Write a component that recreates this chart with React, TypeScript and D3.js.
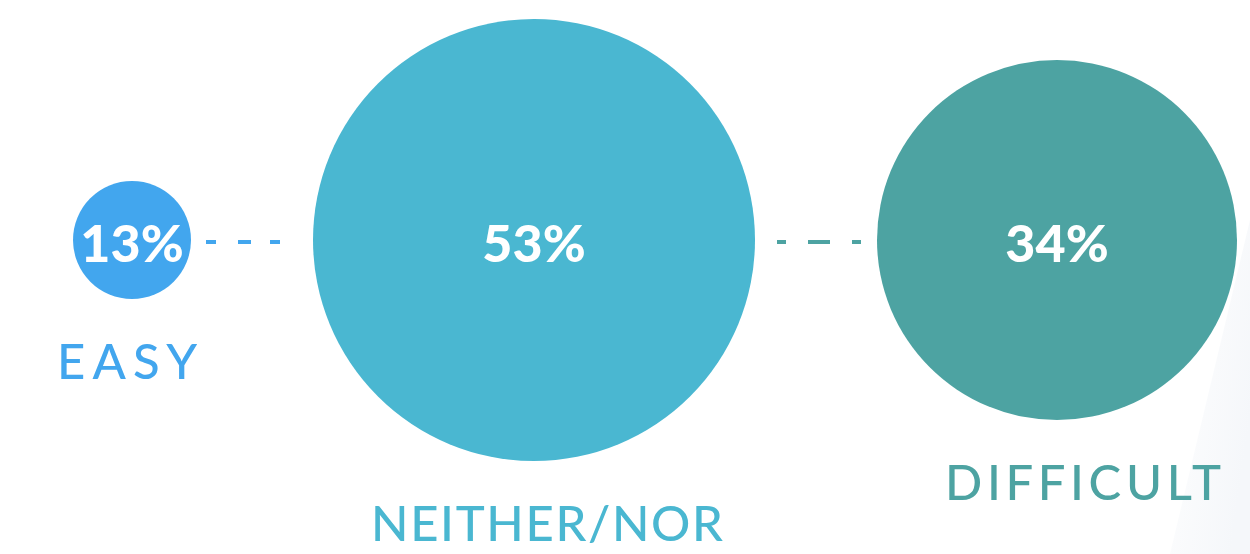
import React from "react";
import * as d3 from "d3";

const categories = ["EASY", "NEITHER/NOR", "DIFFICULT"];
const values = [13, 53, 34];
const colors = ["#42A6EE", "#4AB7D1", "#4DA3A2"];

const W = 1250;
const H = 554;
const CY = 240;
const GAP = 122;
const START_X = 73;
const LABEL_SHIFT = [-5, 13, 26];
const LABEL_W = [140, 352, 276];
const DASH_PAD = [
  [15, 32, "10 22 13 19 10"],
  [22, 16, "9 22 22 22 9"],
] as const;

export default function App() {
  const r = d3.scaleLinear().domain([13, 34, 53]).range([59, 180, 221]);
  const radii = values.map((v) => r(v));
  const cxs: number[] = [];
  let x = START_X;
  radii.forEach((rr) => {
    cxs.push(x + rr);
    x += 2 * rr + GAP;
  });
  const fmt = (v: number) => `${v}%`;

  return (
    <div style={{ position: "fixed", left: 0, top: 0, width: W, height: H, background: "#fff" }}>
      <svg width={W} height={H} style={{ display: "block" }}>
        <defs>
          <linearGradient id="bg" x1="0" y1="0" x2="1" y2="0.6">
            <stop offset="0" stopColor="#ffffff" />
            <stop offset="1" stopColor="#f5f7fa" />
          </linearGradient>
        </defs>
        <rect width={W} height={H} fill="#fff" />
        <polygon points={`1170,${H} 1250,220 1250,${H}`} fill="url(#bg)" />
        {values.slice(0, -1).map((_, i) => {
          const x1 = cxs[i] + radii[i] + DASH_PAD[i][0];
          const x2 = cxs[i + 1] - radii[i + 1] - DASH_PAD[i][1];
          return (
            <line
              key={"d" + i}
              x1={x1}
              x2={x2}
              y1={242}
              y2={242}
              stroke={colors[i === 0 ? 0 : 2]}
              strokeWidth={4}
              strokeDasharray={DASH_PAD[i][2]}
            />
          );
        })}
        {values.map((v, i) => (
          <g key={categories[i]}>
            <circle cx={cxs[i]} cy={CY} r={radii[i]} fill={colors[i]} />
            <text
              x={cxs[i]}
              y={CY + 22}
              textAnchor="middle"
              fill="#fff"
              fontFamily="Lato, 'Open Sans', sans-serif"
              fontWeight={900}
              fontSize={52}
            >
              {fmt(v)}
            </text>
            <text
              x={cxs[i] + LABEL_SHIFT[i]}
              y={CY + radii[i] + 80}
              textAnchor="middle"
              fill={colors[i]}
              fontFamily="Lato, sans-serif"
              fontWeight={500}
              fontSize={49}
              textLength={LABEL_W[i]}
              lengthAdjust="spacing"
            >
              {categories[i]}
            </text>
          </g>
        ))}
      </svg>
    </div>
  );
}
